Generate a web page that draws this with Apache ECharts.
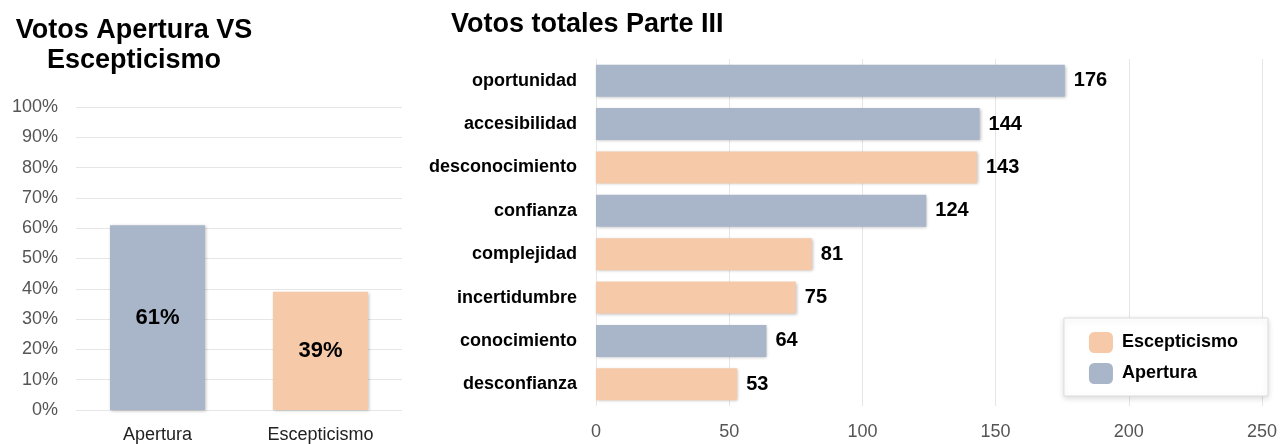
<!DOCTYPE html>
<html>
<head>
<meta charset="utf-8">
<script src="https://cdn.jsdelivr.net/npm/echarts@6/dist/echarts.min.js"></script>
<style>
  html, body { margin: 0; padding: 0; background: #fff; }
  #main { width: 1283px; height: 444px; }
</style>
</head>
<body>
<div id="main"></div>
<script>
// left chart: share of votes
const shareCategories = ['Apertura', 'Escepticismo']
const shareValues = [61, 39]
const shareTicks = [0, 10, 20, 30, 40, 50, 60, 70, 80, 90, 100]

// right chart: total votes part III
const wordCategories = ['oportunidad', 'accesibilidad', 'desconocimiento', 'confianza',
  'complejidad', 'incertidumbre', 'conocimiento', 'desconfianza']
const wordGroups = ['Apertura', 'Apertura', 'Escepticismo', 'Apertura',
  'Escepticismo', 'Escepticismo', 'Apertura', 'Escepticismo']
const wordValues = [176, 144, 143, 124, 81, 75, 64, 53]
const legendNames = ['Escepticismo', 'Apertura']

const colors = { Apertura: '#a9b6ca', Escepticismo: '#f6c9a9' }
const font = '"Liberation Sans", Arial, Helvetica, sans-serif'
const shadow = { shadowBlur: 3, shadowColor: 'rgba(0,0,0,0.25)', shadowOffsetX: 1, shadowOffsetY: 1 }

const chart = echarts.init(document.getElementById('main'))

const groupSeries = legendNames.map(name => ({
  name: name,
  type: 'bar',
  xAxisIndex: 1,
  yAxisIndex: 1,
  stack: 'words',
  barWidth: 32,
  itemStyle: Object.assign({ color: colors[name] }, shadow),
  label: {
    show: true,
    position: 'right',
    distance: 9,
    color: '#000',
    fontWeight: 'bold',
    fontSize: 20,
    fontFamily: font
  },
  data: wordValues.map((v, i) => wordGroups[i] === name ? v : '-')
}))

const option = {
  animation: false,
  textStyle: { fontFamily: font },
  title: [
    {
      text: 'Votos Apertura VS\nEscepticismo',
      left: 129,
      top: 11,
      textAlign: 'center',
      textStyle: { fontSize: 27, fontWeight: 'bold', color: '#000', lineHeight: 30, fontFamily: font }
    },
    {
      text: 'Votos totales Parte III',
      left: 446,
      top: 6,
      textStyle: { fontSize: 27, fontWeight: 'bold', color: '#000', fontFamily: font }
    }
  ],
  legend: {
    data: legendNames,
    orient: 'vertical',
    right: 15,
    top: 318,
    padding: [14, 30, 12, 25],
    itemGap: 10,
    itemWidth: 24,
    itemHeight: 21,
    backgroundColor: '#fff',
    borderColor: '#ddd',
    borderWidth: 1,
    shadowBlur: 6,
    shadowColor: 'rgba(0,0,0,0.15)',
    shadowOffsetY: 2,
    textStyle: { fontSize: 18, fontWeight: 'bold', color: '#000', fontFamily: font, padding: [0, 0, 0, 4] },
    itemStyle: { borderRadius: 3 }
  },
  grid: [
    { left: 76, right: 881, top: 107, bottom: 31 },
    { left: 596, right: 21, top: 59, bottom: 38 }
  ],
  xAxis: [
    {
      gridIndex: 0,
      type: 'category',
      data: shareCategories,
      axisLine: { show: false },
      axisTick: { show: false },
      axisLabel: { color: '#222', fontSize: 18, margin: 16, fontFamily: font }
    },
    {
      gridIndex: 1,
      type: 'value',
      min: 0,
      max: 250,
      interval: 50,
      axisLine: { show: false },
      axisTick: { show: false },
      splitLine: { lineStyle: { color: '#e6e6e6' } },
      axisLabel: { color: '#555', fontSize: 18, margin: 17, fontFamily: font }
    }
  ],
  yAxis: [
    {
      gridIndex: 0,
      type: 'value',
      min: shareTicks[0],
      max: shareTicks[shareTicks.length - 1],
      interval: 10,
      axisLine: { show: false },
      axisTick: { show: false },
      splitLine: { lineStyle: { color: '#e6e6e6' } },
      axisLabel: { formatter: '{value}%', color: '#555', fontSize: 18, margin: 18, fontFamily: font }
    },
    {
      gridIndex: 1,
      type: 'category',
      inverse: true,
      data: wordCategories,
      axisLine: { show: false },
      axisTick: { show: false },
      axisLabel: { color: '#000', fontSize: 18, fontWeight: 'bold', margin: 19, fontFamily: font }
    }
  ],
  series: [
    {
      type: 'bar',
      xAxisIndex: 0,
      yAxisIndex: 0,
      barWidth: 95,
      label: {
        show: true,
        position: 'inside',
        formatter: '{c}%',
        color: '#000',
        fontSize: 22,
        fontWeight: 'bold',
        fontFamily: font
      },
      data: shareValues.map((v, i) => ({
        value: v,
        itemStyle: Object.assign({ color: colors[shareCategories[i]] }, shadow)
      }))
    }
  ].concat(groupSeries)
}

chart.setOption(option)
</script>
</body>
</html>
